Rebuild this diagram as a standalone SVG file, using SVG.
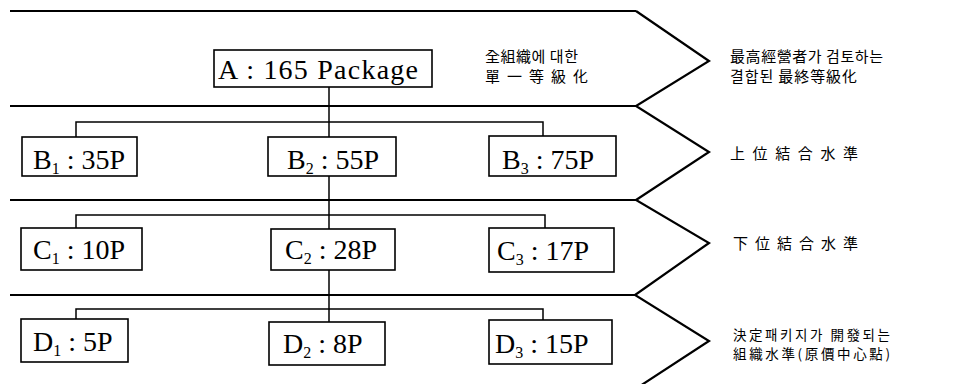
<svg xmlns="http://www.w3.org/2000/svg" width="965" height="384" viewBox="0 0 965 384">
<style>
.bg{fill:#fff}
.band{fill:none;stroke:#000;stroke-width:1.8}
.chev{fill:none;stroke:#000;stroke-width:2.2;stroke-linejoin:miter}
.box{fill:#fff;stroke:#000;stroke-width:1.6}
.con{fill:none;stroke:#000;stroke-width:1.5}
.n{font-family:"Liberation Serif","Times New Roman",serif;font-size:28px;fill:#000}
.sub{font-size:16px}
.k{font-family:"Noto Sans CJK KR","Noto Sans CJK JP",sans-serif;font-size:15px;fill:#000}
.ks{font-size:13.5px}
</style>
<rect class="bg" x="0" y="0" width="965" height="384"/>
<g id="bands">
<path class="band" d="M10 11H636M10 106H636M10 200H636M10 295H636"/>
<path class="chev" d="M636 11L709 61L636 106L709 152L636 200L709 243L635 295L709 341L640 386"/>
</g>
<g id="connectors">
<path class="con" d="M329 87V322"/>
<path class="con" d="M76 137V122H543V136"/>
<path class="con" d="M76 228V215H545V228"/>
<path class="con" d="M76 319V309H543V320"/>
</g>
<g id="nodeA"><rect class="box" x="214" y="50" width="218" height="37"/><text class="n" x="218" y="79" textLength="200" lengthAdjust="spacing">A : 165 Package</text></g>
<g id="nodeB1"><rect class="box" x="22" y="137" width="115" height="39"/><text class="n" x="33" y="169">B<tspan class="sub" dy="5">1</tspan><tspan dy="-5"> : 35P</tspan></text></g>
<g id="nodeB2"><rect class="box" x="268" y="137" width="128" height="39"/><text class="n" x="287" y="169">B<tspan class="sub" dy="5">2</tspan><tspan dy="-5"> : 55P</tspan></text></g>
<g id="nodeB3"><rect class="box" x="489" y="136" width="127" height="40"/><text class="n" x="502" y="169">B<tspan class="sub" dy="5">3</tspan><tspan dy="-5"> : 75P</tspan></text></g>
<g id="nodeC1"><rect class="box" x="21" y="228" width="121" height="42"/><text class="n" x="33" y="259">C<tspan class="sub" dy="5">1</tspan><tspan dy="-5"> : 10P</tspan></text></g>
<g id="nodeC2"><rect class="box" x="271" y="229" width="124" height="41"/><text class="n" x="285" y="259">C<tspan class="sub" dy="5">2</tspan><tspan dy="-5"> : 28P</tspan></text></g>
<g id="nodeC3"><rect class="box" x="489" y="228" width="125" height="44"/><text class="n" x="497" y="260">C<tspan class="sub" dy="5">3</tspan><tspan dy="-5"> : 17P</tspan></text></g>
<g id="nodeD1"><rect class="box" x="21" y="319" width="107" height="43"/><text class="n" x="33" y="351">D<tspan class="sub" dy="5">1</tspan><tspan dy="-5"> : 5P</tspan></text></g>
<g id="nodeD2"><rect class="box" x="269" y="322" width="116" height="43"/><text class="n" x="283" y="353">D<tspan class="sub" dy="5">2</tspan><tspan dy="-5"> : 8P</tspan></text></g>
<g id="nodeD3"><rect class="box" x="489" y="320" width="123" height="44"/><text class="n" x="495" y="353">D<tspan class="sub" dy="5">3</tspan><tspan dy="-5"> : 15P</tspan></text></g>
<g id="labels">
<text class="k" x="485" y="62" textLength="93" lengthAdjust="spacing">全組織에 대한</text>
<text class="k" x="485" y="82" textLength="103" lengthAdjust="spacing">單一等級化</text>
<text class="k" x="730" y="62" textLength="153" lengthAdjust="spacing">最高經營者가 검토하는</text>
<text class="k" x="730" y="82" textLength="127" lengthAdjust="spacing">결합된 最終等級化</text>
<text class="k" x="730" y="159" textLength="128" lengthAdjust="spacing">上位結合水準</text>
<text class="k" x="733" y="249" textLength="125" lengthAdjust="spacing">下位結合水準</text>
<text class="k ks" x="733" y="340" textLength="157" lengthAdjust="spacing">決定패키지가 開發되는</text>
<text class="k ks" x="733" y="359" textLength="157" lengthAdjust="spacing">組織水準(原價中心點)</text>
</g>
</svg>
